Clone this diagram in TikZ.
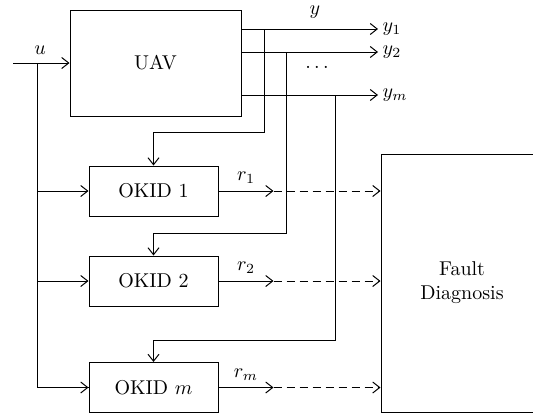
\documentclass[tikz,border=0pt]{standalone}
\usepackage{tikz}
\usetikzlibrary{arrows.meta,calc}

\begin{document}
\begin{tikzpicture}[
    x=0.5pt, y=-0.5pt,
    line width=0.5pt,
    block/.style={rectangle, draw, minimum width=64.5pt, minimum height=25pt, align=center, inner sep=0pt},
    arrow/.style={-{Straight Barb[length=3.5pt,width=5.5pt]}},
    dasharrow/.style={arrow, dash pattern=on 4pt off 2.5pt},
]
\useasboundingbox (0,0) rectangle (533,413);

% Plant
\node[block, minimum width=85.5pt, minimum height=53pt] (uav) at (155.5,63) {UAV};

% Observers
\node[block] (okid1) at (153.5,191) {OKID 1};
\node[block] (okid2) at (153.5,281) {OKID 2};
\node[block] (okidm) at (153.5,387.5) {OKID $m$};

% Diagnosis (cut by the right border)
\node[block, minimum width=81pt, minimum height=129pt] (fault) at (462,283) {Fault\\Diagnosis};

% Input
\coordinate (uin) at (13,63);
\coordinate (ubr) at (37,63);
\node (ulab) at (40,50) {$u$};
\draw[arrow] (uin) -- (uav);
\draw (ubr) |- (okidm);
\draw[arrow] (ubr |- okid1) -- (okid1);
\draw[arrow] (ubr |- okid2) -- (okid2);
\draw[arrow] (ubr |- okidm) -- (okidm);

% Outputs
\node[right, inner sep=2pt] (y1) at (378,29) {$y_1$};
\node[right, inner sep=2pt] (y2) at (378,52) {$y_2$};
\node[right, inner sep=2pt] (ym) at (378,95) {$y_m$};
\node (ylab) at (315,12) {$y$};
\node (dots) at (317,67) {$\ldots$};
\draw[arrow] (uav.east |- y1.west) -- (y1.west);
\draw[arrow] (uav.east |- y2.west) -- (y2.west);
\draw[arrow] (uav.east |- ym.west) -- (ym.west);

% Taps to the observers
\coordinate (tap1) at (264,29);
\coordinate (tap2) at (286,52);
\coordinate (tap3) at (335,95);
\draw[arrow] (tap1) -- ++(0,103) -| (okid1.north);
\draw[arrow] (tap2) -- ++(0,181) -| (okid2.north);
\draw[arrow] (tap3) -- ++(0,245) -| (okidm.north);

% Residuals
\draw[arrow] (okid1.east) -- ++(55,0) coordinate (r1) node[midway, above] {$r_1$};
\draw[arrow] (okid2.east) -- ++(55,0) coordinate (r2) node[midway, above] {$r_2$};
\draw[arrow] (okidm.east) -- ++(55,0) coordinate (rm) node[midway, above] {$r_m$};
\draw[dasharrow] (r1) -- (fault.west |- r1);
\draw[dasharrow] (r2) -- (fault.west |- r2);
\draw[dasharrow] (rm) -- (fault.west |- rm);

\end{tikzpicture}
\end{document}
